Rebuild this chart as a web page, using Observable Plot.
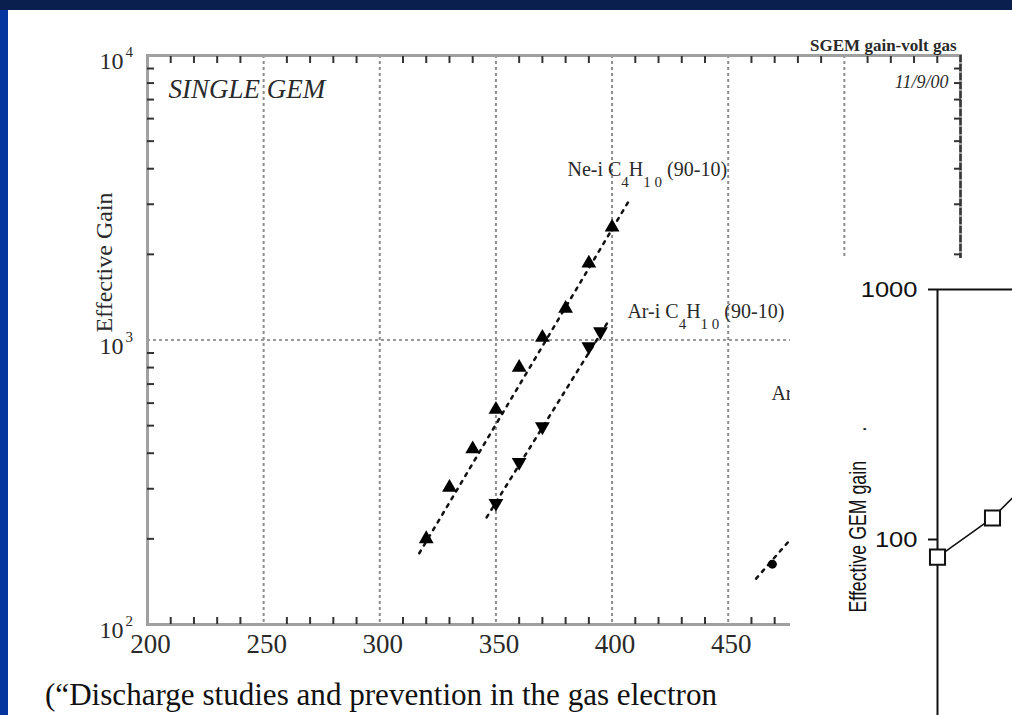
<!DOCTYPE html>
<html><head><meta charset="utf-8">
<script src="https://cdn.jsdelivr.net/npm/d3@7"></script>
<script src="https://cdn.jsdelivr.net/npm/@observablehq/plot@0.6"></script>
<style>
html,body{margin:0;padding:0;}
body{width:1012px;height:715px;overflow:hidden;position:relative;background:#fff;}
.band-top{position:absolute;left:0;top:0;width:1012px;height:10px;background:#0b1f4f;z-index:5}
.band-left{position:absolute;left:0;top:10px;width:8px;height:705px;background:#0536a0;z-index:5}
#main{position:absolute;left:0;top:0;z-index:1}
#overlay{position:absolute;left:790px;top:258px;width:222px;height:457px;background:#fff;overflow:hidden;z-index:2}
#cite{position:absolute;left:0;top:640px;z-index:3}
</style></head><body>
<div class="band-top"></div><div class="band-left"></div>
<div id="main"></div><div id="overlay"></div><div id="cite"></div>
<script>
// ---- Main (scanned) chart: single GEM effective gain vs voltage ----
const neVolt = [320, 330, 340, 350, 360, 370, 380, 390, 400];
const neGain = [200, 303, 414, 570, 800, 1020, 1290, 1860, 2490];
const arVolt = [350, 360, 370, 390, 395];
const arGain = [267, 372, 496, 948, 1070];
const ar3Volt = [469];
const ar3Gain = [163];
const neFitVolt = [317, 407];
const neFitGain = [178, 3060];
const arFitVolt = [346, 399];
const arFitGain = [238, 1185];
const ar3FitVolt = [462, 477];
const ar3FitGain = [145, 200];
const xTickLabels = [200, 250, 300, 350, 400, 450, 500, 550];
const xGrid = [250, 300, 350, 400, 450, 500];
const yMajor = [100, 1000, 10000];
const yExp = ["2", "3", "4"];
const yGrid = [1000];
const seriesLabels = ["Ne-i C4H10 (90-10)", "Ar-i C4H10 (90-10)", "Ar"];
const labelVolt = [380.8, 406.6, 468.6];
const labelGain = [3981, 1262, 650];

// ---- Overlay chart (partially visible) ----
const ovX = [380, 390, 400];
const ovGain = [85, 122, 203];
const ovTicks = [100, 1000];
const ovLabel = "Effective GEM gain\u00a0\u00a0\u00a0\u00a0\u00a0\u00a0.";

const xMinor = d3.range(210, 550, 10).filter(v => v % 50 !== 0);
const yMinor = [2,3,4,5,6,7,8,9].flatMap(m => [m * 100, m * 1000]);

const pts = (xs, ys) => xs.map((x, i) => ({x, y: ys[i]}));
const ink = "#2a2a2a";

const main = Plot.plot({
  width: 1012, height: 715,
  marginLeft: 147, marginRight: 52, marginTop: 55, marginBottom: 91,
  style: {background: "transparent", fontFamily: "'Liberation Serif', 'Times New Roman', serif", color: ink},
  x: {domain: [200, 550], label: null},
  y: {type: "log", domain: [100, 10000], label: null},
  marks: [
    Plot.ruleX(xGrid, {stroke: "#8c8c8c", strokeWidth: 2, strokeDasharray: "3,3"}),
    Plot.ruleY(yGrid, {stroke: "#9a9a9a", strokeWidth: 2, strokeDasharray: "3,3"}),
    Plot.frame({stroke: "#a0a0a0", strokeWidth: 3}),
    Plot.ruleX([550], {stroke: "#3a3a3a", strokeWidth: 2.5, strokeDasharray: "7,2"}),
    Plot.axisX(xMinor, {anchor: "bottom", tickSize: 7, dy: -7, tickFormat: () => "", label: null, stroke: "#333", strokeWidth: 2}),
    Plot.axisX(xMinor, {anchor: "top", tickSize: 7, dy: 7, tickFormat: () => "", label: null, stroke: "#333", strokeWidth: 2}),
    Plot.axisY(yMinor, {anchor: "left", tickSize: 7, dx: 7, tickFormat: () => "", label: null, stroke: "#333", strokeWidth: 2}),
    Plot.axisY(yMinor, {anchor: "right", tickSize: 7, dx: -7, tickFormat: () => "", label: null, stroke: "#333", strokeWidth: 2}),
    Plot.axisX(xTickLabels, {anchor: "bottom", tickSize: 0, tickPadding: 9, dx: 3, fontSize: 27, label: null, tickFormat: d => String(d)}),
    Plot.text(yMajor, {x: 200, y: d => d, text: () => "10", textAnchor: "end", dx: -24, dy: 6, fontSize: 24}),
    Plot.text(yMajor, {x: 200, y: d => d, text: (d, i) => yExp[i], textAnchor: "start", dx: -22, dy: -3, fontSize: 15}),
    Plot.text(["Effective Gain"], {frameAnchor: "top-left", dx: -43, dy: 207, rotate: -90, textAnchor: "middle", lineAnchor: "middle", fontSize: 24}),
    Plot.text(["SINGLE GEM"], {frameAnchor: "top-left", dx: 21, dy: 34, textAnchor: "start", lineAnchor: "middle", fontSize: 27, fontStyle: "italic"}),
    Plot.text(["11/9/00"], {frameAnchor: "top-right", dx: -12, dy: 27, textAnchor: "end", lineAnchor: "middle", fontSize: 18, fontStyle: "italic"}),
    Plot.text(["SGEM gain-volt gas"], {frameAnchor: "top-right", dx: -4, dy: -10, textAnchor: "end", lineAnchor: "middle", fontSize: 17, fontWeight: "bold"}),
    Plot.line(pts(neFitVolt, neFitGain), {x: "x", y: "y", stroke: "#111", strokeWidth: 2.5, strokeDasharray: "3,6"}),
    Plot.line(pts(arFitVolt, arFitGain), {x: "x", y: "y", stroke: "#111", strokeWidth: 2.5, strokeDasharray: "3,6"}),
    Plot.line(pts(ar3FitVolt, ar3FitGain), {x: "x", y: "y", stroke: "#111", strokeWidth: 2.5, strokeDasharray: "3,6"}),
    Plot.dot(pts(neVolt, neGain), {x: "x", y: "y", symbol: "triangle", r: 5.5, fill: "#000"}),
    Plot.dot(pts(arVolt, arGain), {x: "x", y: "y", symbol: "triangle", rotate: 180, r: 5.5, fill: "#000"}),
    Plot.dot(pts(ar3Volt, ar3Gain), {x: "x", y: "y", symbol: "circle", r: 4.5, fill: "#000"}),
    Plot.text(seriesLabels, {x: (d, i) => labelVolt[i], y: (d, i) => labelGain[i], text: d => d, textAnchor: "start", fontSize: 20})
  ]
});
// subscripts in the gas names
d3.select(main).selectAll("text").each(function() {
  const s = this.textContent;
  const i = s.indexOf("C4H10");
  if (i < 0) return;
  const sel = d3.select(this);
  sel.text(null);
  sel.append("tspan").text(s.slice(0, i) + "C");
  sel.append("tspan").attr("dy", 11).attr("font-size", "0.75em").text("4");
  sel.append("tspan").attr("dy", -11).text("H");
  sel.append("tspan").attr("dy", 11).attr("font-size", "0.75em").text("1 0");
  sel.append("tspan").attr("dy", -11).text(" " + s.slice(i + 5).trim());
});
document.getElementById("main").append(main);

const over = Plot.plot({
  width: 222, height: 457,
  marginLeft: 147, marginTop: 31, marginRight: 0, marginBottom: 0,
  style: {background: "white", fontFamily: "'Liberation Sans', Arial, sans-serif", color: "#111"},
  x: {domain: [380, 400], range: [147, 257], label: null},
  y: {type: "log", domain: [10, 1000], range: [531, 31], label: null},
  marks: [
    Plot.ruleX([380], {y1: 10, y2: 1000, stroke: "#111", strokeWidth: 2}),
    Plot.ruleY([1000], {x1: 380, x2: 420, stroke: "#111", strokeWidth: 2}),
    Plot.axisY(ovTicks, {anchor: "left", tickSize: 9, tickPadding: 11, fontSize: 22, strokeWidth: 2, label: null, tickFormat: d => String(d)}),
    Plot.line(pts(ovX, ovGain), {x: "x", y: "y", stroke: "#111", strokeWidth: 1.6}),
    Plot.dot(pts(ovX, ovGain), {x: "x", y: "y", symbol: "square", r: 8.5, fill: "white", stroke: "#111", strokeWidth: 2}),
    Plot.text([ovLabel], {frameAnchor: "top-left", dx: -79, dy: 323, rotate: -90, textAnchor: "start", lineAnchor: "middle", fontSize: 24})
  ]
});
// the pasted figure is stretched horizontally: widen its tick labels, narrow its rotated title
d3.select(over).selectAll("text").each(function() {
  const s = this.textContent;
  if (/^\d+$/.test(s)) {
    d3.select(this).attr("textLength", s.length * 14.2).attr("lengthAdjust", "spacingAndGlyphs");
  } else if (s.startsWith("Effective")) {
    d3.select(this).attr("textLength", 186).attr("lengthAdjust", "spacingAndGlyphs");
  }
});
document.getElementById("overlay").append(over);

// citation line below the chart
const cite = d3.select("#cite").append("svg").attr("width", 790).attr("height", 75);
cite.append("text").attr("x", 45).attr("y", 65)
  .attr("font-family", "'Liberation Serif', 'Times New Roman', serif").attr("font-size", 31)
  .attr("fill", "#111").attr("textLength", 672).attr("lengthAdjust", "spacingAndGlyphs")
  .text("(\u201CDischarge studies and prevention in the gas electron");
</script>
</body></html>
